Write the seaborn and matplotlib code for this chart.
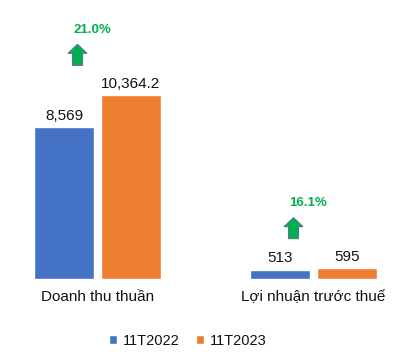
import matplotlib
matplotlib.use("Agg")
import matplotlib.pyplot as plt
from matplotlib.patches import FancyArrow
from matplotlib.transforms import ScaledTranslation
import pandas as pd
import seaborn as sns

# ---- data ----
categories = ["Doanh thu thuần", "Lợi nhuận trước thuế"]
series = ["11T2022", "11T2023"]
values_2022 = [8569, 513]
values_2023 = [10364.2, 595]
labels_2022 = ["8,569", "513"]
labels_2023 = ["10,364.2", "595"]
growth_labels = ["21.0%", "16.1%"]
colors = ["#4472C4", "#ED7D31"]

df = pd.DataFrame({
    "category": categories * 2,
    "series": [series[0]] * 2 + [series[1]] * 2,
    "value": values_2022 + values_2023,
})

sns.set_style("white")
plt.rcParams["font.family"] = ["Liberation Sans", "DejaVu Sans"]

DPI = 100
fig = plt.figure(figsize=(4.05, 3.55), dpi=DPI)
ax = fig.add_axes([0, 76.3 / 355, 1, 278.7 / 355])

sns.barplot(data=df, x="category", y="value", hue="series", order=categories,
            hue_order=series, palette=colors, width=0.62, gap=0.104,
            saturation=1, ax=ax, legend=True)

ax.set_xlim(-97.5 / 216, (405 - 97.5) / 216)
ax.set_ylim(0, 278.7 / 0.01774)
for s in ax.spines.values():
    s.set_visible(False)
ax.set_yticks([])
ax.set_xlabel("")
ax.set_ylabel("")
ax.tick_params(axis="x", length=0, pad=8, labelsize=11, labelcolor="#111111")

ax.bar_label(ax.containers[0], labels=labels_2022, padding=3, fontsize=11, color="#111111")
ax.bar_label(ax.containers[1], labels=labels_2023, padding=3, fontsize=11, color="#111111")

# growth arrows and labels
for i, (cat, top, g) in enumerate(zip(categories, values_2023, growth_labels)):
    trans = fig.dpi_scale_trans + ScaledTranslation(i, top, ax.transData)
    arr = FancyArrow(-20 / DPI, 29.5 / DPI, 0, 21 / DPI, width=10 / DPI,
                     head_width=19 / DPI, head_length=9 / DPI,
                     length_includes_head=True, transform=trans,
                     facecolor="#00B050", edgecolor="#5A7590", linewidth=0.8,
                     clip_on=False)
    ax.add_patch(arr)
    ax.annotate(g, xy=(i, top), xytext=(-5, 65), textcoords="offset pixels",
                ha="center", va="center", fontsize=9.5, fontweight="bold",
                color="#00B050")

handles, labels = ax.get_legend_handles_labels()
ax.legend(handles, labels, loc="center", bbox_to_anchor=(188 / 405, 1 - 341 / 355),
          bbox_transform=fig.transFigure, ncol=2, frameon=False,
          handlelength=0.55, handleheight=0.55, handletextpad=0.4,
          columnspacing=1.1, fontsize=10.5, labelcolor="#111111")

fig.savefig("out.png", dpi=DPI, facecolor="white")
